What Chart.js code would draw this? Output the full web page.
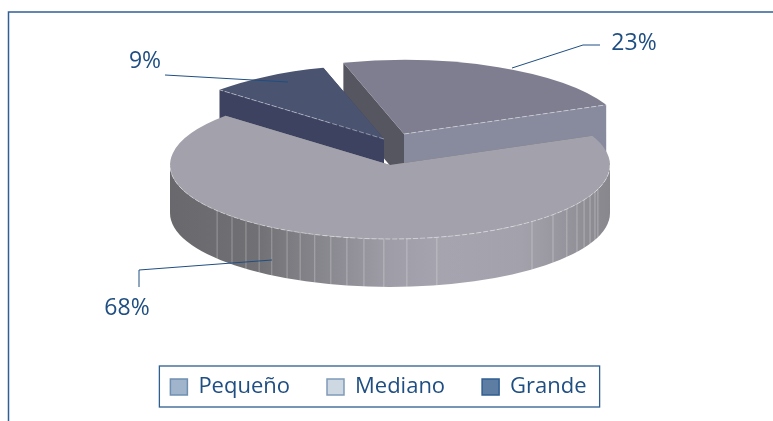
<!DOCTYPE html>
<html>
<head>
<meta charset="utf-8">
<title>Pie</title>
<script src="https://cdn.jsdelivr.net/npm/chart.js@4/dist/chart.umd.min.js"></script>
<style>
html, body { margin: 0; padding: 0; background: #fff; overflow: hidden; }
canvas { display: block; }
</style>
</head>
<body>
<canvas id="pie" width="773" height="421"></canvas>
<script>
// ---- data ----
const categories = ['Pequeño', 'Mediano', 'Grande'];
const shares = [23, 68, 9];

// ---- styles ----
const TOP_COLORS = ['#7e7e90', '#a3a1ab', '#4a5470'];
const START_WALL = ['#55565f', '#6c6c70', '#3c4260'];
const END_WALL = ['#888a9d', '#8c8b91', '#3c4260'];
const LEGEND_COLORS = ['#a0b5cc', '#cdd8e3', '#5d7da3'];
const LEGEND_BORDERS = ['#6f8fb0', '#7f9ab8', '#2f5e90'];
const INK = '#1f4e82';
const FONT = '"Open Sans", sans-serif';

// ---- 3D look ----
const CENTER = { x: 390, y: 165 };
const SQUASH = 74 / 220;
const DEPTH = 48;
const EXPLODE = [[14, -31], [0, 0], [-6, -26]];   // main slice stays put
const DRAW_ORDER = [0, 2, 1];
// facet lines on the front wall, degrees either side of straight down
const SEAMS = [-51.8, -45.9, -40.9, -36.5, -32.5, -27.9, -24.1, -20, -15.6, -11.3, -6.8, -1.6, 4.4, 12.3,
    40.2, 47.8, 53.5, 58.2, 61.9, 65.4, 68.7, 70.9];

// leader lines + text anchor per slice
const LEADERS = [
    { line: [[512, 68], [583, 45], [600, 45]], text: [634, 43] },
    { line: [[272, 260], [139, 270], [139, 287]], text: [127, 308] },
    { line: [[288, 82], [165, 75]], text: [145, 61] }
];

function ellipseY(r, a) { return Math.sin(a) * r * SQUASH; }

function wallQuad(ctx, cx, cy, r, a, color) {
    const ex = cx + Math.cos(a) * r, ey = cy + ellipseY(r, a);
    ctx.fillStyle = color;
    ctx.beginPath();
    ctx.moveTo(cx, cy);
    ctx.lineTo(ex, ey);
    ctx.lineTo(ex, ey + DEPTH);
    ctx.lineTo(cx, cy + DEPTH);
    ctx.closePath();
    ctx.fill();
}

function frontWall(ctx, cx, cy, r) {
    const grad = ctx.createLinearGradient(cx - r, 0, cx + r, 0);
    grad.addColorStop(0, '#69686c');
    grad.addColorStop(0.2, '#717175');
    grad.addColorStop(0.3, '#808086');
    grad.addColorStop(0.5, '#9f9da7');
    grad.addColorStop(0.62, '#a6a4ae');
    grad.addColorStop(0.8, '#a3a1ab');
    grad.addColorStop(1, '#88878d');
    ctx.fillStyle = grad;
    ctx.beginPath();
    ctx.ellipse(cx, cy, r, r * SQUASH, 0, 0, Math.PI, false);
    ctx.ellipse(cx, cy + DEPTH, r, r * SQUASH, 0, Math.PI, 0, true);
    ctx.closePath();
    ctx.fill();

    ctx.strokeStyle = 'rgba(255,255,255,0.3)';
    ctx.lineWidth = 1;
    SEAMS.forEach(deg => {
        const t = deg * Math.PI / 180;
        const x = cx + Math.sin(t) * r, y = cy + Math.cos(t) * r * SQUASH;
        ctx.beginPath();
        ctx.moveTo(x, y);
        ctx.lineTo(x, y + DEPTH);
        ctx.stroke();
    });
}

function dashedEdge(ctx, fn) {
    ctx.save();
    ctx.strokeStyle = 'rgba(255,255,255,0.42)';
    ctx.lineWidth = 1;
    ctx.setLineDash([5, 2]);
    ctx.beginPath();
    fn();
    ctx.stroke();
    ctx.restore();
}

const pie3d = {
    id: 'pie3d',
    beforeDatasetsDraw(chart) {
        const ctx = chart.ctx;
        const arcs = chart.getDatasetMeta(0).data;
        DRAW_ORDER.forEach(i => {
            const arc = arcs[i];
            const { startAngle, endAngle, outerRadius: r } = arc.getProps(['startAngle', 'endAngle', 'outerRadius']);
            const cx = CENTER.x + EXPLODE[i][0];
            const cy = CENTER.y + EXPLODE[i][1];

            wallQuad(ctx, cx, cy, r, startAngle, START_WALL[i]);
            wallQuad(ctx, cx, cy, r, endAngle, END_WALL[i]);
            if (endAngle - startAngle > Math.PI) frontWall(ctx, cx, cy, r);

            // top face: the library's own arc, squashed into an ellipse
            ctx.save();
            ctx.translate(cx, cy);
            ctx.scale(1, SQUASH);
            ctx.translate(-arc.x, -arc.y);
            arc.draw(ctx);
            ctx.restore();

            if (endAngle - startAngle > Math.PI) {
                dashedEdge(ctx, () => ctx.ellipse(cx, cy, r, r * SQUASH, 0, 0, Math.PI, false));
            } else {
                const a = i === 0 ? endAngle : startAngle;
                dashedEdge(ctx, () => {
                    ctx.moveTo(cx, cy);
                    ctx.lineTo(cx + Math.cos(a) * r, cy + ellipseY(r, a));
                });
            }
        });
        return false;
    },
    afterDraw(chart) {
        const ctx = chart.ctx;
        ctx.save();

        // outer frame
        ctx.strokeStyle = '#2f5f94';
        ctx.lineWidth = 1.5;
        ctx.beginPath();
        ctx.moveTo(8.5, 421);
        ctx.lineTo(8.5, 12);
        ctx.lineTo(773, 12);
        ctx.stroke();

        // leaders and percentage labels
        ctx.strokeStyle = INK;
        ctx.lineWidth = 1;
        ctx.fillStyle = INK;
        ctx.font = '23px ' + FONT;
        ctx.textAlign = 'center';
        ctx.textBaseline = 'middle';
        LEADERS.forEach((l, i) => {
            ctx.beginPath();
            l.line.forEach((p, j) => j ? ctx.lineTo(p[0], p[1]) : ctx.moveTo(p[0], p[1]));
            ctx.stroke();
            ctx.fillText(shares[i] + '%', l.text[0], l.text[1]);
        });

        // box round the legend
        const boxes = chart.legend.legendHitBoxes;
        const first = boxes[0], last = boxes[boxes.length - 1];
        const midY = first.top + first.height / 2;
        ctx.strokeStyle = '#2f5e90';
        ctx.lineWidth = 1.3;
        ctx.strokeRect(first.left - 11, midY - 21, last.left + last.width - first.left + 24, 41);
        ctx.restore();
    }
};

new Chart(document.getElementById('pie'), {
    type: 'pie',
    data: {
        labels: categories,
        datasets: [{
            data: shares,
            backgroundColor: TOP_COLORS,
            borderWidth: 0,
            radius: 220
        }]
    },
    options: {
        responsive: false,
        animation: false,
        rotation: -16,
        layout: { padding: { right: 16, bottom: 13 } },
        plugins: {
            tooltip: { enabled: false },
            legend: {
                position: 'bottom',
                labels: {
                    boxWidth: 17,
                    boxHeight: 16,
                    padding: 37,
                    color: INK,
                    font: { family: FONT, size: 22 },
                    generateLabels: () => categories.map((c, i) => ({
                        text: c,
                        fillStyle: LEGEND_COLORS[i],
                        strokeStyle: LEGEND_BORDERS[i],
                        lineWidth: 1.5,
                        fontColor: INK,
                        index: i
                    }))
                }
            }
        }
    },
    plugins: [pie3d]
});
</script>
</body>
</html>
